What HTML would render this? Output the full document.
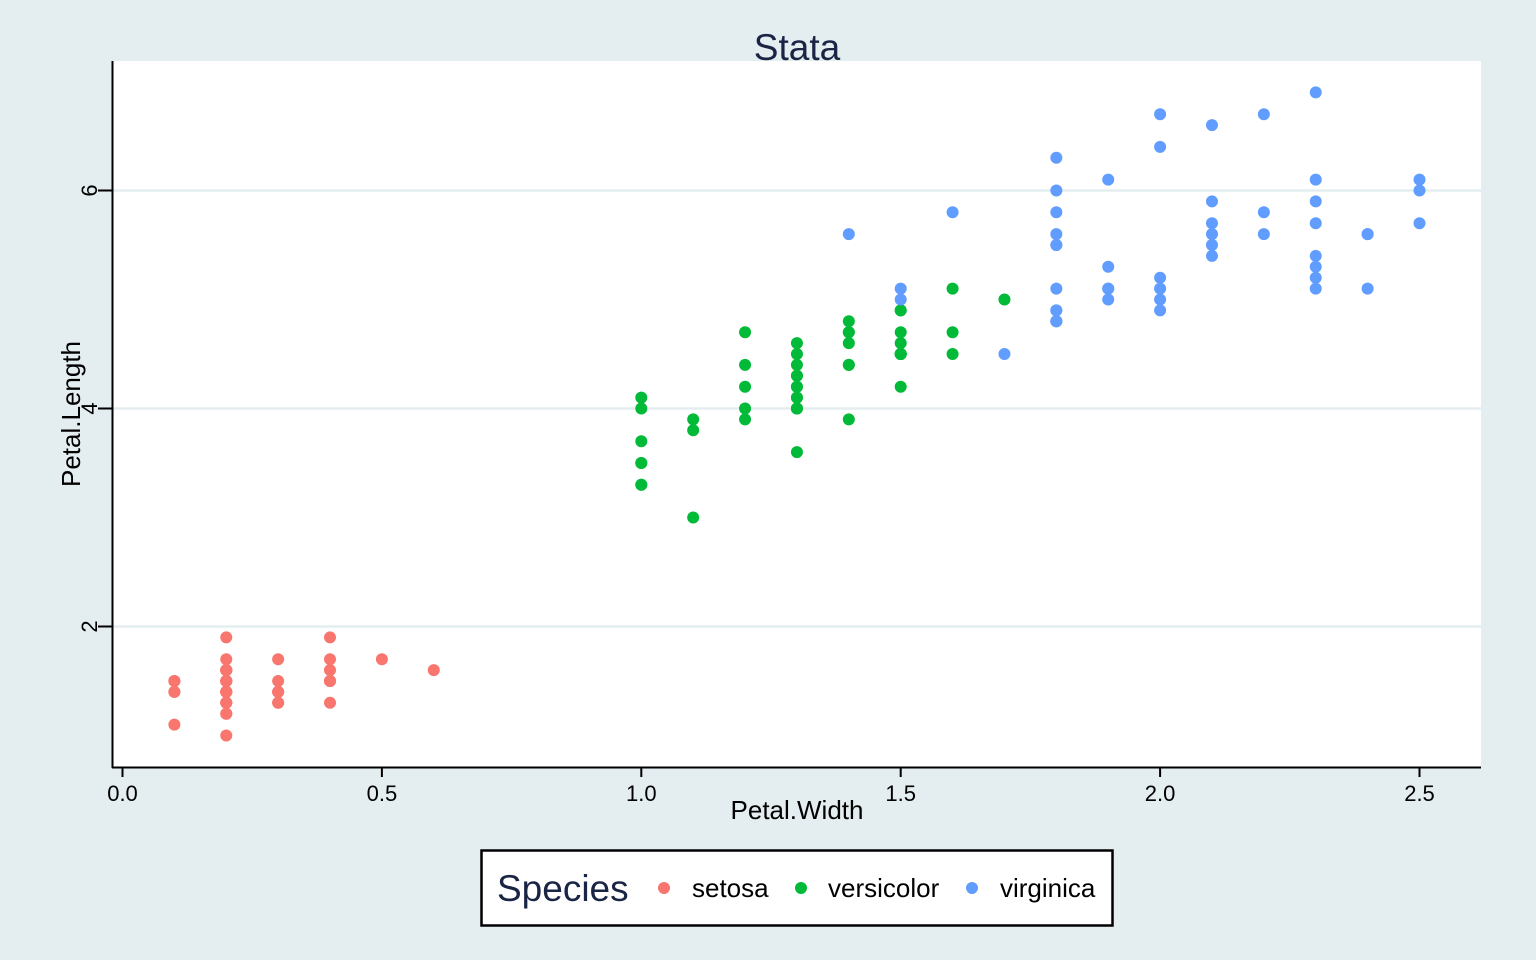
<!DOCTYPE html>
<html><head><meta charset="utf-8"><style>
body{margin:0;background:#e4edef;}
svg{display:block;font-family:"Liberation Sans",sans-serif;}
</style></head><body>
<svg id="chart" width="1536" height="960">
<rect x="0" y="0" width="1536" height="960" fill="#e4edef"/>
<rect x="113" y="61" width="1368" height="706" fill="#ffffff"/>
<g id="grid"></g>
<g id="points"></g>
<line x1="112.5" y1="61" x2="112.5" y2="768" stroke="#000" stroke-width="2"/>
<line x1="112" y1="767.5" x2="1481" y2="767.5" stroke="#000" stroke-width="2"/>
<g id="axes"></g>
<text x="797" y="60" font-size="37" fill="#1a2445" text-anchor="middle">Stata</text>
<text x="797" y="819" font-size="26" fill="#000" text-anchor="middle">Petal.Width</text>
<text x="0" y="0" font-size="26" fill="#000" text-anchor="middle" transform="translate(80,414) rotate(-90)">Petal.Length</text>
<g>
<rect x="481.5" y="850.5" width="631" height="75" fill="#fff" stroke="#000" stroke-width="2.5"/>
<text x="497" y="901" font-size="37" fill="#1a2445">Species</text>
<circle cx="664" cy="888" r="6" fill="#f8766d"/>
<text x="692" y="897" font-size="26">setosa</text>
<circle cx="801" cy="888" r="6" fill="#00ba38"/>
<text x="828" y="897" font-size="26">versicolor</text>
<circle cx="972" cy="888" r="6" fill="#619cff"/>
<text x="1000" y="897" font-size="26">virginica</text>
</g>
</svg>
<script>
const xTicks=[0,0.5,1.0,1.5,2.0,2.5];
const xTickLabels=["0.0","0.5","1.0","1.5","2.0","2.5"];
const yTicks=[2,4,6];
const yTickLabels=["2","4","6"];
const setosaW=[0.2,0.2,0.2,0.2,0.2,0.4,0.3,0.2,0.2,0.1,0.2,0.2,0.1,0.1,0.2,0.4,0.4,0.3,0.3,0.3,0.2,0.4,0.2,0.5,0.2,0.2,0.4,0.2,0.2,0.2,0.2,0.4,0.1,0.2,0.2,0.2,0.2,0.1,0.2,0.2,0.3,0.3,0.2,0.6,0.4,0.3,0.2,0.2,0.2,0.2];
const setosaL=[1.4,1.4,1.3,1.5,1.4,1.7,1.4,1.5,1.4,1.5,1.5,1.6,1.4,1.1,1.2,1.5,1.3,1.4,1.7,1.5,1.7,1.5,1.0,1.7,1.9,1.6,1.6,1.5,1.4,1.6,1.6,1.5,1.5,1.4,1.5,1.2,1.3,1.4,1.3,1.5,1.3,1.3,1.3,1.6,1.9,1.4,1.6,1.4,1.5,1.4];
const versW=[1.4,1.5,1.5,1.3,1.5,1.3,1.6,1.0,1.3,1.4,1.0,1.5,1.0,1.4,1.3,1.4,1.5,1.0,1.5,1.1,1.8,1.3,1.5,1.2,1.3,1.4,1.4,1.7,1.5,1.0,1.1,1.0,1.2,1.6,1.5,1.6,1.5,1.3,1.3,1.3,1.2,1.4,1.2,1.0,1.3,1.2,1.3,1.3,1.1,1.3];
const versL=[4.7,4.5,4.9,4.0,4.6,4.5,4.7,3.3,4.6,3.9,3.5,4.2,4.0,4.7,3.6,4.4,4.5,4.1,4.5,3.9,4.8,4.0,4.9,4.7,4.3,4.4,4.8,5.0,4.5,3.5,3.8,3.7,3.9,5.1,4.5,4.5,4.7,4.4,4.1,4.0,4.4,4.6,4.0,3.3,4.2,4.2,4.2,4.3,3.0,4.1];
const virgW=[2.5,1.9,2.1,1.8,2.2,2.1,1.7,1.8,1.8,2.5,2.0,1.9,2.1,2.0,2.4,2.3,1.8,2.2,2.3,1.5,2.3,2.0,2.0,1.8,2.1,1.8,1.8,1.8,2.1,1.6,1.9,2.0,2.2,1.5,1.4,2.3,2.4,1.8,1.8,2.1,2.4,2.3,1.9,2.3,2.5,2.3,1.9,2.0,2.3,1.8];
const virgL=[6.0,5.1,5.9,5.6,5.8,6.6,4.5,6.3,5.8,6.1,5.1,5.3,5.5,5.0,5.1,5.3,5.5,6.7,6.9,5.0,5.7,4.9,6.7,4.9,5.7,6.0,4.8,4.9,5.6,5.8,6.1,6.4,5.6,5.1,5.6,6.1,5.6,5.5,4.8,5.4,5.6,5.1,5.1,5.9,5.7,5.2,5.0,5.2,5.4,5.1];
const NS="http://www.w3.org/2000/svg";
function xs(v){return 122.5+v*518.8;}
function ys(v){return 190.5+(6-v)*109;}
function mk(t,a){const e=document.createElementNS(NS,t);for(const k in a)e.setAttribute(k,a[k]);return e;}
const grid=document.getElementById('grid'),axes=document.getElementById('axes'),pts=document.getElementById('points');
yTicks.forEach((v,i)=>{
  const g=mk('line',{x1:113,x2:1481,y1:ys(v),y2:ys(v),stroke:'#e4edef','stroke-width':2.5});
  
  
  grid.appendChild(g);
  const t=mk('line',{x1:98,x2:112,y1:ys(v),y2:ys(v),stroke:'#000','stroke-width':2});
  
  
  axes.appendChild(t);
  const l=mk('text',{'font-size':22,'text-anchor':'middle',transform:`translate(97,${ys(v)}) rotate(-90)`});
  l.textContent=yTickLabels[i];
  
  
  axes.appendChild(l);
});
xTicks.forEach((v,i)=>{
  const t=mk('line',{x1:xs(v),x2:xs(v),y1:767,y2:777,stroke:'#000','stroke-width':2});
  
  
  axes.appendChild(t);
  const l=mk('text',{x:xs(v),y:801,'font-size':22,'text-anchor':'middle'});
  l.textContent=xTickLabels[i];
  
  
  axes.appendChild(l);
});
[[setosaW,setosaL,'#f8766d','setosa'],[versW,versL,'#00ba38','versicolor'],[virgW,virgL,'#619cff','virginica']].forEach(([W,L,c,n])=>{
  W.forEach((w,i)=>{
    const p=mk('circle',{cx:xs(w),cy:ys(L[i]),r:6,fill:c});
    
    
    pts.appendChild(p);
  });
});
</script>
</body></html>
